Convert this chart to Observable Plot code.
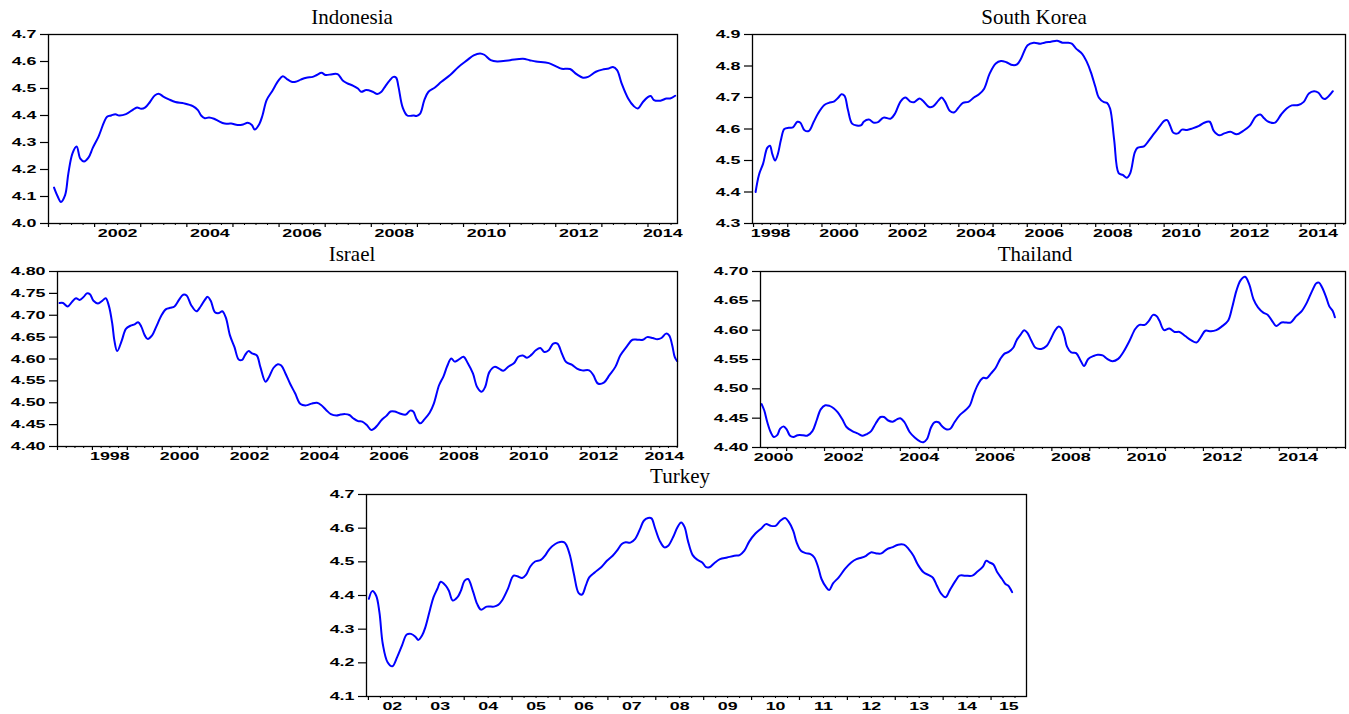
<!DOCTYPE html>
<html>
<head>
<meta charset="utf-8">
<script src="https://cdn.jsdelivr.net/npm/d3@7"></script>
<script src="https://cdn.jsdelivr.net/npm/@observablehq/plot@0.6"></script>
<style>
  html, body { margin: 0; padding: 0; background: #fff; }
  #root { position: relative; width: 1349px; height: 714px; background: #fff; overflow: hidden; }
  .ttl { position: absolute; font-family: "Liberation Serif", "Times New Roman", serif; font-size: 21px; line-height: 1; white-space: nowrap; transform: translateX(-50%); color: #000; }
</style>
</head>
<body>
<div id="root"></div>
<script>
// ---------------- DATA ----------------
const indonesiaDate = [2001.12,2001.20,2001.27,2001.36,2001.43,2001.52,2001.61,2001.69,2001.77,2001.87,2001.96,2002.08,2002.27,2002.36,2002.45,2002.53,2002.68,2002.82,2002.92,2003.01,2003.10,2003.20,2003.31,2003.40,2003.49,2003.61,2003.75,2003.94,2004.13,2004.24,2004.31,2004.39,2004.48,2004.59,2004.68,2004.82,2004.96,2005.10,2005.22,2005.32,2005.41,2005.47,2005.57,2005.64,2005.73,2005.85,2005.99,2006.08,2006.17,2006.27,2006.36,2006.47,2006.59,2006.73,2006.82,2006.92,2007.01,2007.15,2007.27,2007.38,2007.47,2007.61,2007.71,2007.78,2007.89,2008.03,2008.13,2008.22,2008.31,2008.40,2008.48,2008.54,2008.59,2008.68,2008.78,2008.92,2008.98,2009.06,2009.15,2009.24,2009.38,2009.52,2009.71,2009.89,2010.08,2010.22,2010.36,2010.45,2010.59,2010.73,2011.01,2011.29,2011.43,2011.57,2011.85,2012.03,2012.13,2012.31,2012.45,2012.59,2012.70,2012.87,2013.01,2013.15,2013.24,2013.33,2013.43,2013.57,2013.69,2013.78,2013.89,2013.99,2014.06,2014.13,2014.27,2014.40,2014.48,2014.59];
const indonesiaValue = [4.133,4.10,4.08,4.105,4.185,4.26,4.285,4.24,4.23,4.245,4.28,4.32,4.395,4.40,4.405,4.40,4.405,4.42,4.43,4.425,4.43,4.45,4.475,4.48,4.47,4.46,4.45,4.445,4.435,4.42,4.40,4.39,4.393,4.388,4.38,4.37,4.37,4.365,4.367,4.373,4.365,4.348,4.368,4.40,4.457,4.49,4.53,4.545,4.535,4.525,4.525,4.533,4.54,4.543,4.55,4.558,4.55,4.553,4.553,4.53,4.52,4.51,4.50,4.488,4.494,4.488,4.48,4.488,4.51,4.53,4.543,4.54,4.506,4.43,4.40,4.40,4.398,4.407,4.457,4.488,4.504,4.525,4.55,4.58,4.605,4.623,4.63,4.625,4.605,4.60,4.605,4.61,4.605,4.60,4.594,4.58,4.573,4.572,4.553,4.54,4.543,4.562,4.57,4.574,4.58,4.568,4.518,4.463,4.435,4.426,4.45,4.467,4.472,4.457,4.455,4.463,4.463,4.473];

const koreaDate = [1998.06,1998.16,1998.28,1998.40,1998.48,1998.55,1998.63,1998.71,1998.80,1998.90,1999.03,1999.15,1999.28,1999.37,1999.49,1999.62,1999.76,1999.89,2000.07,2000.20,2000.36,2000.48,2000.57,2000.66,2000.76,2000.88,2001.02,2001.15,2001.22,2001.37,2001.52,2001.64,2001.80,2002.01,2002.14,2002.30,2002.44,2002.57,2002.69,2002.85,2002.95,2003.13,2003.25,2003.40,2003.50,2003.60,2003.74,2003.87,2003.99,2004.12,2004.28,2004.44,2004.59,2004.74,2004.90,2005.08,2005.23,2005.39,2005.57,2005.70,2005.82,2006.01,2006.19,2006.38,2006.50,2006.69,2006.87,2007.03,2007.18,2007.30,2007.42,2007.61,2007.74,2007.86,2007.99,2008.09,2008.24,2008.33,2008.42,2008.54,2008.67,2008.79,2008.91,2009.01,2009.14,2009.22,2009.41,2009.53,2009.71,2009.88,2010.00,2010.09,2010.17,2010.27,2010.40,2010.52,2010.67,2010.83,2011.02,2011.17,2011.33,2011.45,2011.61,2011.76,2011.94,2012.12,2012.31,2012.50,2012.68,2012.81,2012.93,2013.05,2013.24,2013.42,2013.58,2013.73,2013.92,2014.08,2014.23,2014.38,2014.51,2014.64,2014.72,2014.93];
const koreaValue = [4.40,4.455,4.49,4.54,4.547,4.52,4.50,4.52,4.565,4.60,4.604,4.605,4.623,4.62,4.596,4.594,4.623,4.65,4.676,4.683,4.688,4.70,4.71,4.705,4.66,4.617,4.611,4.612,4.623,4.63,4.62,4.622,4.636,4.633,4.65,4.688,4.70,4.688,4.685,4.697,4.69,4.67,4.672,4.69,4.70,4.686,4.657,4.653,4.668,4.683,4.686,4.70,4.71,4.728,4.776,4.808,4.816,4.812,4.803,4.805,4.824,4.866,4.874,4.871,4.874,4.877,4.88,4.874,4.874,4.871,4.856,4.838,4.813,4.78,4.734,4.70,4.685,4.683,4.665,4.565,4.46,4.454,4.445,4.46,4.525,4.54,4.545,4.56,4.586,4.61,4.626,4.628,4.612,4.588,4.586,4.598,4.597,4.602,4.61,4.62,4.623,4.594,4.58,4.586,4.591,4.583,4.594,4.61,4.64,4.646,4.633,4.623,4.62,4.646,4.665,4.675,4.676,4.686,4.713,4.72,4.715,4.697,4.696,4.72];

const israelDate = [1997.06,1997.16,1997.29,1997.41,1997.53,1997.63,1997.75,1997.84,1997.93,1998.03,1998.16,1998.28,1998.38,1998.47,1998.57,1998.63,1998.71,1998.84,1998.96,1999.09,1999.21,1999.31,1999.40,1999.50,1999.58,1999.71,1999.83,1999.98,2000.11,2000.23,2000.35,2000.48,2000.60,2000.70,2000.83,2000.98,2001.10,2001.22,2001.30,2001.39,2001.51,2001.63,2001.72,2001.82,2001.94,2002.07,2002.19,2002.29,2002.38,2002.47,2002.57,2002.71,2002.81,2002.96,2003.06,2003.19,2003.31,2003.41,2003.53,2003.66,2003.81,2003.96,2004.12,2004.28,2004.43,2004.55,2004.70,2004.83,2004.99,2005.11,2005.24,2005.36,2005.48,2005.61,2005.73,2005.86,2005.98,2006.07,2006.17,2006.29,2006.42,2006.54,2006.66,2006.79,2006.98,2007.10,2007.19,2007.29,2007.39,2007.51,2007.66,2007.78,2007.93,2008.06,2008.16,2008.28,2008.38,2008.50,2008.63,2008.75,2008.90,2009.02,2009.15,2009.25,2009.37,2009.52,2009.65,2009.77,2009.92,2010.08,2010.20,2010.33,2010.45,2010.58,2010.70,2010.83,2010.95,2011.07,2011.20,2011.32,2011.45,2011.57,2011.73,2011.88,2012.03,2012.23,2012.35,2012.48,2012.65,2012.81,2012.98,2013.12,2013.31,2013.47,2013.62,2013.77,2013.89,2014.05,2014.18,2014.30,2014.43,2014.52,2014.61,2014.68,2014.75];
const israelValue = [4.728,4.728,4.72,4.73,4.739,4.735,4.742,4.75,4.748,4.733,4.727,4.733,4.739,4.722,4.68,4.642,4.618,4.642,4.669,4.676,4.679,4.684,4.674,4.654,4.646,4.654,4.674,4.70,4.714,4.717,4.72,4.735,4.747,4.745,4.723,4.709,4.72,4.735,4.742,4.733,4.707,4.705,4.709,4.695,4.654,4.627,4.599,4.598,4.61,4.618,4.613,4.608,4.582,4.548,4.559,4.58,4.588,4.585,4.567,4.544,4.521,4.497,4.494,4.498,4.50,4.495,4.483,4.474,4.471,4.473,4.474,4.472,4.464,4.458,4.457,4.449,4.438,4.441,4.449,4.461,4.47,4.48,4.48,4.476,4.473,4.482,4.48,4.462,4.453,4.462,4.477,4.498,4.54,4.561,4.583,4.601,4.594,4.599,4.605,4.591,4.567,4.536,4.525,4.536,4.57,4.582,4.578,4.573,4.583,4.591,4.605,4.608,4.603,4.61,4.62,4.625,4.616,4.62,4.635,4.635,4.612,4.593,4.587,4.578,4.574,4.574,4.563,4.544,4.546,4.563,4.582,4.608,4.629,4.644,4.644,4.644,4.65,4.648,4.645,4.648,4.658,4.654,4.631,4.605,4.595];

const thailandDate = [2000.34,2000.41,2000.49,2000.58,2000.66,2000.75,2000.83,2000.92,2001.00,2001.09,2001.18,2001.29,2001.43,2001.54,2001.68,2001.79,2001.90,2002.02,2002.13,2002.24,2002.35,2002.47,2002.58,2002.73,2002.87,2003.01,2003.12,2003.23,2003.35,2003.48,2003.57,2003.68,2003.80,2003.91,2004.00,2004.11,2004.25,2004.38,2004.53,2004.61,2004.70,2004.81,2004.90,2005.01,2005.09,2005.21,2005.32,2005.43,2005.58,2005.71,2005.83,2005.94,2006.03,2006.11,2006.19,2006.28,2006.39,2006.51,2006.64,2006.75,2006.86,2006.98,2007.07,2007.18,2007.27,2007.35,2007.46,2007.57,2007.72,2007.86,2007.97,2008.08,2008.17,2008.25,2008.33,2008.40,2008.51,2008.64,2008.76,2008.85,2008.96,2009.10,2009.21,2009.34,2009.46,2009.60,2009.75,2009.88,2010.05,2010.20,2010.31,2010.45,2010.56,2010.67,2010.76,2010.84,2010.96,2011.10,2011.24,2011.37,2011.52,2011.67,2011.82,2011.94,2012.05,2012.20,2012.34,2012.48,2012.65,2012.76,2012.87,2012.98,2013.10,2013.21,2013.32,2013.44,2013.58,2013.70,2013.83,2013.92,2014.06,2014.19,2014.30,2014.45,2014.60,2014.73,2014.87,2014.98,2015.05,2015.13,2015.24,2015.32,2015.41,2015.47];
const thailandValue = [4.474,4.463,4.443,4.426,4.418,4.421,4.432,4.436,4.431,4.42,4.418,4.421,4.421,4.42,4.428,4.446,4.465,4.472,4.471,4.467,4.46,4.448,4.435,4.428,4.424,4.42,4.423,4.428,4.441,4.452,4.452,4.446,4.444,4.448,4.45,4.443,4.426,4.417,4.41,4.409,4.414,4.434,4.443,4.443,4.437,4.431,4.432,4.443,4.456,4.463,4.471,4.491,4.505,4.514,4.519,4.518,4.526,4.535,4.551,4.56,4.563,4.57,4.583,4.593,4.60,4.596,4.582,4.57,4.568,4.573,4.585,4.599,4.606,4.603,4.59,4.572,4.562,4.561,4.548,4.539,4.551,4.556,4.558,4.557,4.551,4.547,4.551,4.562,4.582,4.602,4.609,4.609,4.616,4.626,4.624,4.616,4.60,4.603,4.597,4.597,4.59,4.583,4.579,4.589,4.599,4.598,4.60,4.606,4.616,4.639,4.667,4.685,4.691,4.678,4.653,4.639,4.63,4.626,4.614,4.607,4.613,4.613,4.613,4.624,4.633,4.647,4.667,4.68,4.681,4.673,4.656,4.641,4.633,4.622];

const turkeyDate = [2002.01,2002.08,2002.16,2002.23,2002.30,2002.40,2002.50,2002.60,2002.70,2002.80,2002.89,2002.99,2003.04,2003.12,2003.19,2003.29,2003.36,2003.44,2003.51,2003.61,2003.68,2003.76,2003.86,2003.93,2004.01,2004.08,2004.18,2004.27,2004.35,2004.47,2004.62,2004.71,2004.79,2004.91,2005.03,2005.11,2005.21,2005.29,2005.38,2005.48,2005.60,2005.70,2005.78,2005.90,2006.00,2006.09,2006.14,2006.21,2006.29,2006.39,2006.46,2006.54,2006.61,2006.73,2006.86,2006.98,2007.10,2007.19,2007.29,2007.37,2007.47,2007.57,2007.67,2007.75,2007.84,2007.91,2007.98,2008.08,2008.18,2008.26,2008.36,2008.45,2008.53,2008.60,2008.67,2008.77,2008.87,2008.97,2009.05,2009.12,2009.22,2009.34,2009.49,2009.64,2009.75,2009.85,2009.95,2010.08,2010.21,2010.30,2010.40,2010.50,2010.60,2010.70,2010.77,2010.87,2010.94,2011.03,2011.13,2011.23,2011.31,2011.39,2011.46,2011.56,2011.62,2011.70,2011.82,2011.95,2012.08,2012.19,2012.29,2012.39,2012.49,2012.61,2012.71,2012.83,2012.93,2013.06,2013.18,2013.28,2013.38,2013.47,2013.59,2013.72,2013.79,2013.87,2013.95,2014.05,2014.14,2014.26,2014.34,2014.46,2014.61,2014.70,2014.83,2014.90,2014.97,2015.05,2015.13,2015.23,2015.30,2015.36,2015.44];
const turkeyValue = [4.39,4.413,4.40,4.35,4.256,4.202,4.19,4.217,4.251,4.284,4.286,4.276,4.268,4.281,4.306,4.36,4.395,4.42,4.441,4.43,4.414,4.385,4.395,4.414,4.444,4.449,4.414,4.375,4.358,4.367,4.367,4.372,4.385,4.419,4.459,4.457,4.452,4.461,4.486,4.501,4.506,4.521,4.538,4.553,4.559,4.558,4.548,4.518,4.464,4.407,4.403,4.43,4.454,4.469,4.484,4.503,4.518,4.533,4.553,4.558,4.557,4.568,4.597,4.622,4.63,4.629,4.602,4.563,4.543,4.548,4.573,4.602,4.617,4.604,4.563,4.52,4.506,4.498,4.484,4.484,4.496,4.508,4.513,4.518,4.52,4.533,4.56,4.584,4.60,4.612,4.607,4.607,4.622,4.63,4.62,4.592,4.558,4.533,4.526,4.523,4.513,4.484,4.449,4.424,4.416,4.436,4.454,4.479,4.498,4.508,4.512,4.518,4.528,4.525,4.525,4.538,4.543,4.551,4.551,4.538,4.518,4.492,4.469,4.459,4.452,4.429,4.407,4.395,4.416,4.444,4.459,4.459,4.459,4.469,4.486,4.503,4.498,4.492,4.469,4.449,4.434,4.429,4.41];

// tick values and labels
const indonesiaYTicks = [4.0,4.1,4.2,4.3,4.4,4.5,4.6,4.7];
const koreaYTicks = [4.3,4.4,4.5,4.6,4.7,4.8,4.9];
const israelYTicks = [4.40,4.45,4.50,4.55,4.60,4.65,4.70,4.75,4.80];
const thailandYTicks = [4.40,4.45,4.50,4.55,4.60,4.65,4.70];
const turkeyYTicks = [4.1,4.2,4.3,4.4,4.5,4.6,4.7];
const indonesiaXLabels = [2002,2004,2006,2008,2010,2012,2014];
const koreaXLabels = [1998,2000,2002,2004,2006,2008,2010,2012,2014];
const israelXLabels = [1998,2000,2002,2004,2006,2008,2010,2012,2014];
const thailandXLabels = [2000,2002,2004,2006,2008,2010,2012,2014];
const turkeyXLabels = [2002,2003,2004,2005,2006,2007,2008,2009,2010,2011,2012,2013,2014,2015];
const titles = ["Indonesia","South Korea","Israel","Thailand","Turkey"];

// ---------------- LAYOUT ----------------
const panels = [
  {title: titles[0], t: indonesiaDate, v: indonesiaValue, frame: [48, 677, 34, 223], xDomain: [2001.0, 2014.64], yDomain: [4.0, 4.7], yTicks: indonesiaYTicks, yFmt: ".1f", xLabels: indonesiaXLabels, full: true, titleX: 352, titleTop: 6.5},
  {title: titles[1], t: koreaDate, v: koreaValue, frame: [752, 1345, 34, 223], xDomain: [1997.97, 2015.3], yDomain: [4.3, 4.9], yTicks: koreaYTicks, yFmt: ".1f", xLabels: koreaXLabels, full: true, titleX: 1034, titleTop: 6.5},
  {title: titles[2], t: israelDate, v: israelValue, frame: [57, 677, 271, 446], xDomain: [1997.0, 2014.76], yDomain: [4.40, 4.80], yTicks: israelYTicks, yFmt: ".2f", xLabels: israelXLabels, full: true, titleX: 352, titleTop: 244},
  {title: titles[3], t: thailandDate, v: thailandValue, frame: [760, 1345, 271, 447], xDomain: [2000.31, 2015.75], yDomain: [4.40, 4.70], yTicks: thailandYTicks, yFmt: ".2f", xLabels: thailandXLabels, full: true, titleX: 1035, titleTop: 244},
  {title: titles[4], t: turkeyDate, v: turkeyValue, frame: [366, 1026, 494, 696], xDomain: [2001.96, 2015.74], yDomain: [4.1, 4.7], yTicks: turkeyYTicks, yFmt: ".1f", xLabels: turkeyXLabels, full: false, titleX: 680, titleTop: 465.5}
];

const root = document.getElementById("root");
const STRETCH = 1.62;

function drawPanel(p) {
  const [x0, x1, y0, y1] = p.frame;
  const mL = 52, mR = 6, mT = 6, mB = 26;
  const data = p.t.map((t, i) => ({t, v: p.v[i]}));
  const [d0, d1] = p.xDomain;
  const years = d3.range(Math.ceil(d0 - 1e-9), Math.floor(d1) + 1);
  const quarters = d3.range(Math.ceil(d0 * 4), Math.floor(d1 * 4) + 1).map(q => q / 4).filter(q => q % 1 !== 0);
  const labelPos = p.xLabels.map(y => (Math.max(y, d0) + Math.min(y + 1, d1)) / 2);
  const fmtLabel = p.full ? (y => String(y)) : (y => String(y % 100).padStart(2, "0"));

  const chart = Plot.plot({
    width: x1 - x0 + mL + mR,
    height: y1 - y0 + mT + mB,
    marginLeft: mL, marginRight: mR, marginTop: mT, marginBottom: mB,
    x: {type: "linear", domain: p.xDomain, label: null},
    y: {type: "linear", domain: p.yDomain, label: null},
    style: {fontFamily: "'Liberation Sans', Arial, sans-serif", fontSize: "11px", fontWeight: "bold", color: "#000", background: "transparent", overflow: "visible"},
    marks: [
      Plot.axisY(p.yTicks, {tickSize: 8, tickPadding: 4, tickFormat: d3.format(p.yFmt), stroke: "#000", strokeWidth: 1.2, label: null}),
      Plot.axisX(years, {tickSize: 4, tickFormat: () => "", stroke: "#000", strokeWidth: 1.2, label: null}),
      Plot.axisX(quarters, {tickSize: 2, tickFormat: () => "", stroke: "#000", label: null}),
      Plot.axisX(labelPos, {tickSize: 0, tickPadding: 6, tickFormat: d => fmtLabel(Math.floor(d)), label: null}),
      Plot.line(data, {x: "t", y: "v", stroke: "#0000ff", strokeWidth: 2, curve: "catmull-rom"}),
      Plot.frame({stroke: "#000", strokeWidth: 1.3})
    ]
  });
  chart.style.position = "absolute";
  chart.style.left = (x0 - mL) + "px";
  chart.style.top = (y0 - mT) + "px";
  root.appendChild(chart);

  // stretch tick labels horizontally like the original export
  d3.select(chart).selectAll("g[aria-label$='tick label'] text").each(function () {
    const w = this.getComputedTextLength();
    if (w > 0) {
      this.setAttribute("textLength", (w * STRETCH).toFixed(1));
      this.setAttribute("lengthAdjust", "spacingAndGlyphs");
    }
  });

  const t = document.createElement("div");
  t.className = "ttl";
  t.textContent = p.title;
  t.style.left = p.titleX + "px";
  t.style.top = p.titleTop + "px";
  root.appendChild(t);
}

panels.forEach(drawPanel);
</script>
</body>
</html>
